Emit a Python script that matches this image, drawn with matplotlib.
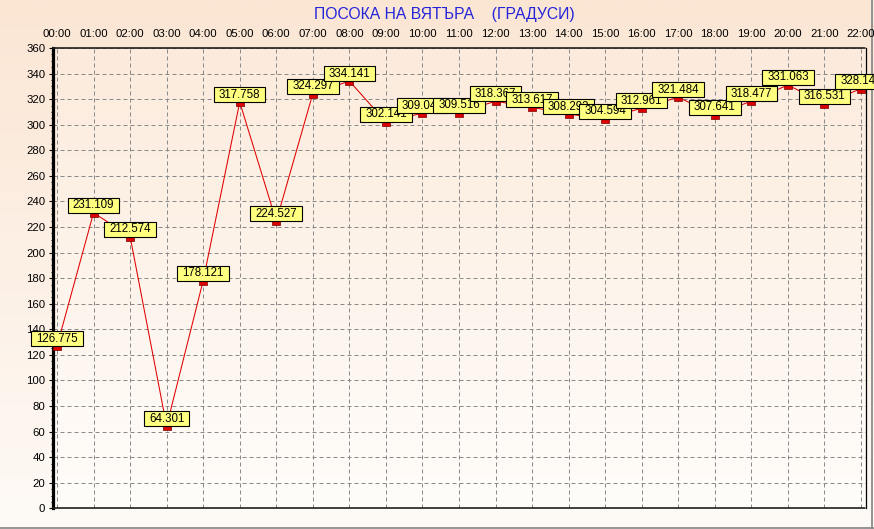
import numpy as np
import matplotlib
matplotlib.use("Agg")
import matplotlib.pyplot as plt
from matplotlib.path import Path
from matplotlib.lines import Line2D
from matplotlib.ticker import MultipleLocator

# ---- data ----
hours = ["00:00", "01:00", "02:00", "03:00", "04:00", "05:00", "06:00", "07:00",
         "08:00", "09:00", "10:00", "11:00", "12:00", "13:00", "14:00", "15:00",
         "16:00", "17:00", "18:00", "19:00", "20:00", "21:00", "22:00"]
values = [126.775, 231.109, 212.574, 64.301, 178.121, 317.758, 224.527, 324.297,
          334.141, 302.141, 309.047, 309.516, 318.367, 313.617, 308.293, 304.594,
          312.961, 321.484, 307.641, 318.477, 331.063, 316.531, 328.148]
y_ticks = list(range(0, 361, 20))
title = "ПОСОКА НА ВЯТЪРА    (ГРАДУСИ)"

W, H = 874, 529
fig = plt.figure(figsize=(W / 100, H / 100), dpi=100)
plt.rcParams['font.family'] = ['Liberation Sans', 'DejaVu Sans']

# figure background gradient
bg = fig.add_axes([0, 0, 1, 1], zorder=-10)
top_c = np.array([251, 230, 212]) / 255
bot_c = np.array([254, 250, 246]) / 255
t = np.linspace(0, 1, 256)[:, None]
grad = top_c[None, :] * (1 - t) + bot_c[None, :] * t
bg.imshow(grad[:, None, :], aspect='auto', extent=[0, 1, 0, 1])
bg.set_xlim(0, 1); bg.set_ylim(0, 1)
bg.axis('off')

left_px, right_px, top_px, bot_px = 53, 866, 48, 508.3
ax = fig.add_axes([left_px / W, (H - bot_px) / H,
                   (right_px - left_px) / W, (bot_px - top_px) / H])
ax.patch.set_visible(False)

x = np.arange(len(hours))
# plot area gradient
ptop = np.array([252, 235, 220]) / 255
pbot = np.array([255, 253, 250]) / 255
pgrad = ptop[None, :] * (1 - t) + pbot[None, :] * t
ax.imshow(pgrad[:, None, :], aspect='auto', extent=[0, 1, 0, 1],
          transform=ax.transAxes, zorder=0)

px_per_unit = (861 - 57) / 22
ax.set_xlim(-(57 - left_px) / px_per_unit, 22 + (right_px - 861) / px_per_unit)
ax.set_ylim(0, 360)

ax.set_xticks(x)
ax.set_xticklabels(hours)
ax.set_yticks(y_ticks)
ax.yaxis.set_minor_locator(MultipleLocator(5))
ax.xaxis.tick_top()
ax.tick_params(axis='x', length=0, pad=6.5, labelsize=8.2, colors='black')
ax.tick_params(axis='y', which='major', length=3, width=0.8, pad=2.5, labelsize=8.2)
ax.tick_params(axis='y', which='minor', length=1.5, width=0.7)

ax.grid(True, color='#8a8a8a', linestyle=(0, (4, 3)), linewidth=0.72, zorder=1)
ax.set_axisbelow(True)

ax.spines['left'].set_linewidth(2.3)
ax.spines['left'].set_color('black')
ax.spines['right'].set_linewidth(0.9)
for s in ('top', 'bottom'):
    ax.spines[s].set_linewidth(1.2)
    ax.spines[s].set_linestyle((0, (3, 1)))
    ax.spines[s].set_color('#202020')

ax.plot(x, values, color='#E00000', linewidth=0.75, zorder=3)

rect = Path([(-1, 0), (1, 0), (1, -1), (-1, -1), (-1, 0)],
            [Path.MOVETO, Path.LINETO, Path.LINETO, Path.LINETO, Path.CLOSEPOLY])
ax.plot(x, values, linestyle='none', marker=rect, markersize=6.2,
        markerfacecolor='#DD0000', markeredgecolor='#7A0000',
        markeredgewidth=0.5, zorder=4, clip_on=False)


def label_box(x0, y0, width, height, mutation_size):
    cx = x0 + width / 2
    cy = y0 + height / 2
    bw = width + 10
    bh = 15
    verts = [(cx - bw / 2, cy - bh / 2), (cx + bw / 2, cy - bh / 2),
             (cx + bw / 2, cy + bh / 2), (cx - bw / 2, cy + bh / 2),
             (cx - bw / 2, cy - bh / 2)]
    return Path(verts, [Path.MOVETO, Path.LINETO, Path.LINETO,
                        Path.LINETO, Path.CLOSEPOLY])


for i, v in enumerate(values):
    ax.annotate(f"{v:.3f}", xy=(i, v), xytext=(0, 7.5 * 0.72),
                textcoords='offset points', ha='center', va='center',
                fontsize=8.3, color='black', zorder=10 + i,
                annotation_clip=False,
                bbox=dict(boxstyle=label_box, facecolor='#FFFF80',
                          edgecolor='black', linewidth=0.8))

fig.text(444 / W, 1 - 14.5 / H, title, ha='center', va='center',
         fontsize=11.3, color='#2424D8')

# window frame lines
fig.add_artist(Line2D([0, 1], [1.5 / H, 1.5 / H], color='#8C8C8C', linewidth=1.3,
                      transform=fig.transFigure, zorder=-5))
fig.add_artist(Line2D([871.5 / W, 871.5 / W], [0, 1], color='#8C8C8C', linewidth=1.3,
                      transform=fig.transFigure, zorder=-5))

fig.savefig("out.png", dpi=100)
